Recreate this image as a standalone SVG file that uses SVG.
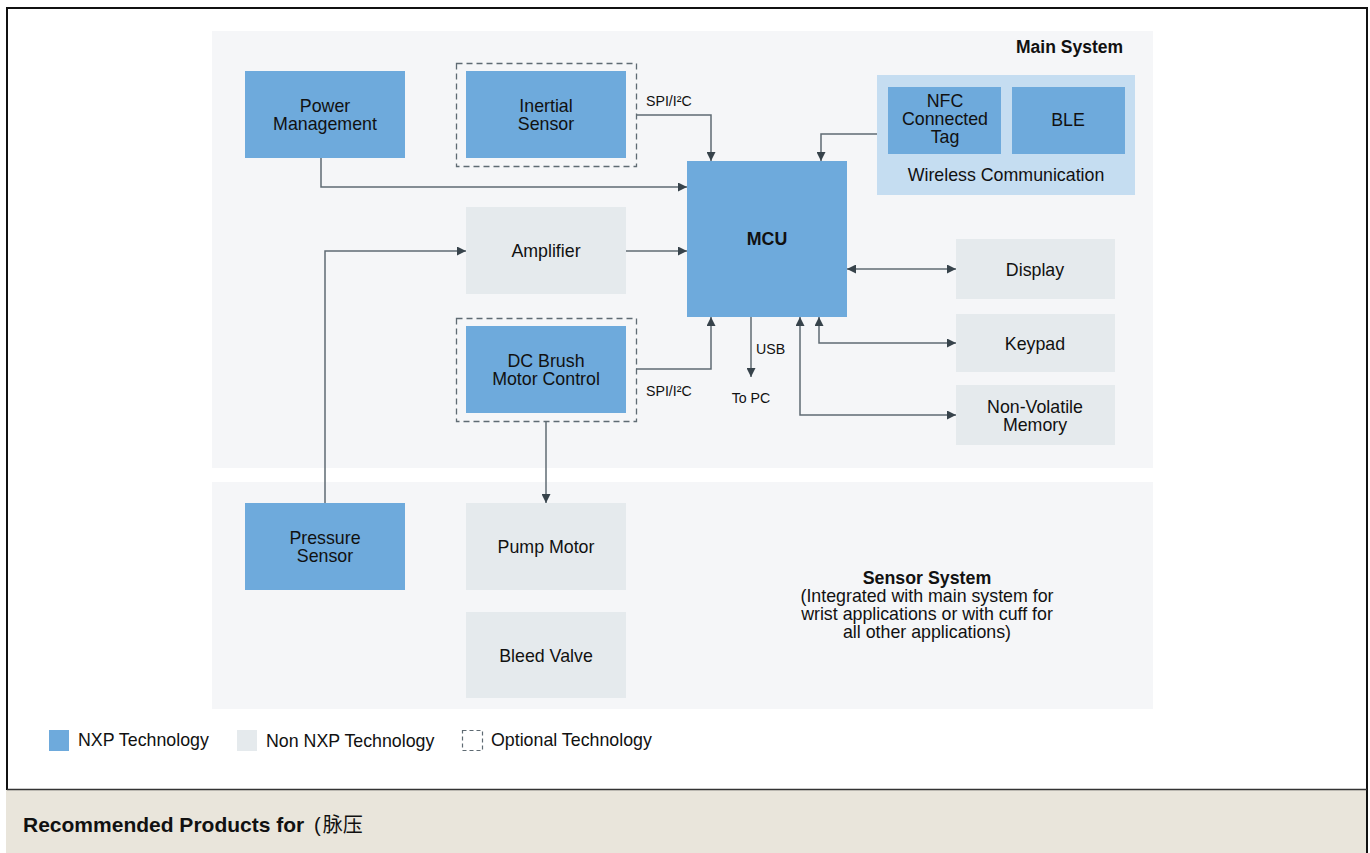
<svg xmlns="http://www.w3.org/2000/svg" width="1370" height="853" viewBox="0 0 1370 853">
<defs>
<style>
text{font-family:"Liberation Sans",Arial,sans-serif;fill:#111;}
.t{font-size:17.8px;text-anchor:middle;}
.s{font-size:14.2px;}
.b{font-weight:bold;}
.nxp{fill:#6eaadc;}
.non{fill:#e5eaed;}
.panel{fill:#f5f6f8;}
.dash{fill:none;stroke:#5f6b73;stroke-width:1.3;stroke-dasharray:6,4;}
.c{fill:none;stroke:#5f6b73;stroke-width:1.5;}
</style>
<marker id="a" viewBox="0 0 10 10" refX="10" refY="5" markerWidth="9" markerHeight="9" markerUnits="userSpaceOnUse" orient="auto-start-reverse">
<path d="M0,0L10,5L0,10z" fill="#37434b"/>
</marker>
</defs>
<rect x="0" y="0" width="1370" height="853" fill="#fff"/>
<rect x="6" y="790" width="1362" height="63" fill="#e9e5db"/>
<path d="M7,790V8H1367V853" fill="none" stroke="#111" stroke-width="2"/>
<line x1="7" y1="789.5" x2="1367" y2="789.5" stroke="#333" stroke-width="1.5"/>
<text x="23" y="832" class="b" font-size="21">Recommended Products for <tspan dx="4" font-weight="normal" font-size="20" font-family="'Liberation Sans','Noto Sans CJK SC',sans-serif">(</tspan><tspan dx="2" font-weight="normal" font-size="20" font-family="'Noto Sans CJK SC',sans-serif">脉压</tspan></text>

<g id="main-system"><rect class="panel" x="212" y="31" width="941" height="437"/><text x="1123" y="53" class="b" font-size="17.5" text-anchor="end">Main System</text></g>
<g id="sensor-system"><rect class="panel" x="212" y="482" width="941" height="227"/>
<text x="927" y="584" class="t b">Sensor System</text>
<text x="927" y="602" class="t">(Integrated with main system for</text>
<text x="927" y="620" class="t">wrist applications or with cuff for</text>
<text x="927" y="638" class="t">all other applications)</text></g>

<g id="wireless"><rect x="877" y="75" width="258" height="120" fill="#c5ddf1"/><text x="1006" y="181" class="t">Wireless Communication</text></g>
<g id="nfc"><rect class="nxp" x="888" y="87" width="113" height="67"/><text x="945" y="107" class="t">NFC</text><text x="945" y="125" class="t">Connected</text><text x="945" y="143" class="t">Tag</text></g>
<g id="ble"><rect class="nxp" x="1012" y="87" width="113" height="67"/><text x="1068" y="126" class="t">BLE</text></g>

<g id="power"><rect class="nxp" x="245" y="71" width="160" height="87"/><text x="325" y="112" class="t">Power</text><text x="325" y="130" class="t">Management</text></g>
<g id="inertial"><rect class="dash" x="456.5" y="63.5" width="180" height="103"/><rect class="nxp" x="466" y="71" width="160" height="87"/><text x="546" y="112" class="t">Inertial</text><text x="546" y="130" class="t">Sensor</text></g>
<g id="mcu"><rect class="nxp" x="687" y="161" width="160" height="156"/><text x="767" y="245" class="t b">MCU</text></g>
<g id="amplifier"><rect class="non" x="466" y="207" width="160" height="87"/><text x="546" y="257" class="t">Amplifier</text></g>
<g id="dcbrush"><rect class="dash" x="456.5" y="318.5" width="180" height="103"/><rect class="nxp" x="466" y="326" width="160" height="87"/><text x="546" y="367" class="t">DC Brush</text><text x="546" y="385" class="t">Motor Control</text></g>
<g id="display"><rect class="non" x="956" y="239" width="159" height="60"/><text x="1035" y="276" class="t">Display</text></g>
<g id="keypad"><rect class="non" x="956" y="314" width="159" height="58"/><text x="1035" y="350" class="t">Keypad</text></g>
<g id="memory"><rect class="non" x="956" y="385" width="159" height="60"/><text x="1035" y="413" class="t">Non-Volatile</text><text x="1035" y="431" class="t">Memory</text></g>
<g id="pressure"><rect class="nxp" x="245" y="503" width="160" height="87"/><text x="325" y="544" class="t">Pressure</text><text x="325" y="562" class="t">Sensor</text></g>
<g id="pump"><rect class="non" x="466" y="503" width="160" height="87"/><text x="546" y="553" class="t">Pump Motor</text></g>
<g id="bleed"><rect class="non" x="466" y="612" width="160" height="86"/><text x="546" y="662" class="t">Bleed Valve</text></g>

<g id="connectors">
<path class="c" d="M321,158V187H687" marker-end="url(#a)"/>
<path class="c" d="M636,115H711V161" marker-end="url(#a)"/>
<path class="c" d="M877,134H821V161" marker-end="url(#a)"/>
<path class="c" d="M626,251H687" marker-end="url(#a)"/>
<path class="c" d="M325,503V251H466" marker-end="url(#a)"/>
<path class="c" d="M636,369H711V317" marker-end="url(#a)"/>
<path class="c" d="M751,317V377" marker-end="url(#a)"/>
<path class="c" d="M847,269H956" marker-start="url(#a)" marker-end="url(#a)"/>
<path class="c" d="M819,317V343H956" marker-start="url(#a)" marker-end="url(#a)"/>
<path class="c" d="M800,317V415H956" marker-start="url(#a)" marker-end="url(#a)"/>
<path class="c" d="M546,421V503" marker-end="url(#a)"/>
<text x="646" y="106" class="s">SPI/I²C</text>
<text x="646" y="396" class="s">SPI/I²C</text>
<text x="756" y="354" class="s">USB</text>
<text x="751" y="403" class="s" text-anchor="middle">To PC</text>
</g>

<g id="legend">
<rect class="nxp" x="49" y="730" width="20" height="21"/><text x="78" y="746" font-size="17.8">NXP Technology</text>
<rect class="non" x="237" y="730" width="20" height="21"/><text x="266" y="747" font-size="17.8">Non NXP Technology</text>
<rect x="462.5" y="730.5" width="20" height="20" fill="none" stroke="#5f6b73" stroke-width="1.2" stroke-dasharray="4,3"/><text x="491" y="746" font-size="17.8">Optional Technology</text>
</g>
</svg>
